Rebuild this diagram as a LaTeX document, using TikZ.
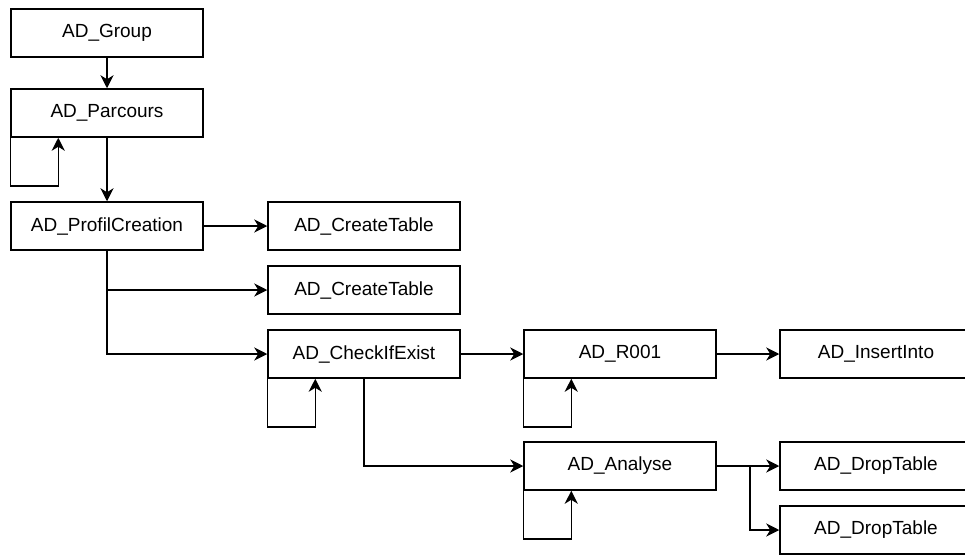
\documentclass[tikz,border=0pt]{standalone}
\usepackage{fontspec}
\setmainfont{Liberation Sans}
\usetikzlibrary{arrows.meta}
\begin{document}
\begin{tikzpicture}[x=1pt,y=-1pt,
  box/.style={draw=black,line width=1.5pt,minimum width=192pt,minimum height=48pt,
              inner sep=0pt,font=\fontsize{19}{22}\selectfont,text=black,fill=white},
  link/.style={line width=1.5pt,-{Stealth[length=13pt,width=13pt,inset=4pt]}}]
\useasboundingbox (0,0) rectangle (965,554);
\clip (0,0) rectangle (965,554);
% call tree boxes
\node[box] (grp) at (107,33)  {AD\_Group};
\node[box] (par) at (107,113) {AD\_Parcours};
\node[box] (pc)  at (107,226) {AD\_ProfilCreation};
\node[box] (ct1) at (364,226) {AD\_CreateTable};
\node[box] (ct2) at (364,290) {AD\_CreateTable};
\node[box] (cie) at (364,354) {AD\_CheckIfExist};
\node[box] (r01) at (620,354) {AD\_R001};
\node[box] (ins) at (876,354) {AD\_InsertInto};
\node[box] (ana) at (620,466) {AD\_Analyse};
\node[box] (dt1) at (876,466) {AD\_DropTable};
\node[box] (dt2) at (876,530) {AD\_DropTable};
% calls
\draw[link] (grp) -- (par);
\draw[link] (par) -- (pc);
\draw[link] (pc) -- (ct1);
\draw[link] (pc.south) |- (ct2.west);
\draw[link] (pc.south) |- (cie.west);
\draw[link] (cie) -- (r01);
\draw[link] (r01) -- (ins);
\draw[link] (cie.south) |- (ana.west);
\draw[link] (ana) -- (dt1);
\coordinate (split) at ([xshift=33pt]ana.east);
\draw[link] (split) |- (dt2.west);
% recursive calls
\foreach \n in {par,cie,r01,ana}
  \draw[link] (\n.south west) -- ++(0,48) -- ++(48,0) -- ([xshift=48pt]\n.south west);
\end{tikzpicture}
\end{document}
